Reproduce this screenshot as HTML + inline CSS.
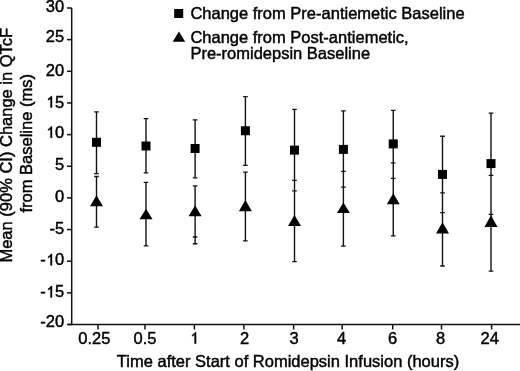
<!DOCTYPE html><html><head><meta charset="utf-8"><style>html,body{margin:0;padding:0;background:#fff;}svg{display:block;filter:grayscale(1);}text{font-family:"Liberation Sans",sans-serif;fill:#000;stroke:#000;stroke-width:0.45px;}.g1{fill:#000;stroke:#000;stroke-width:55px;}</style></head><body>
<svg width="520" height="371" viewBox="0 0 520 371" font-size="16.5">
<rect width="520" height="371" fill="#fff"/>
<g stroke="#111" stroke-width="1.5" fill="none">
<path d="M71.7 8 V324.5 M68 324.5 H520"/>
<path d="M67 8.00 H71.7"/>
<path d="M67 39.65 H71.7"/>
<path d="M67 71.30 H71.7"/>
<path d="M67 102.95 H71.7"/>
<path d="M67 134.60 H71.7"/>
<path d="M67 166.25 H71.7"/>
<path d="M67 197.90 H71.7"/>
<path d="M67 229.55 H71.7"/>
<path d="M67 261.20 H71.7"/>
<path d="M67 292.85 H71.7"/>
<path d="M67 324.50 H71.7"/>
<path d="M98 324.5 V329.5"/>
<path d="M145 324.5 V329.5"/>
<path d="M194.4 324.5 V329.5"/>
<path d="M243.9 324.5 V329.5"/>
<path d="M293.6 324.5 V329.5"/>
<path d="M342.2 324.5 V329.5"/>
<path d="M392.8 324.5 V329.5"/>
<path d="M441.5 324.5 V329.5"/>
<path d="M491.6 324.5 V329.5"/>
</g>
<text x="45.85" y="11.90">30</text>
<text x="45.85" y="42.20">25</text>
<text x="45.85" y="75.50">20</text>
<text x="45.85" y="107.50"> 5</text>
<path class="g1" transform="translate(45.85 107.50) scale(0.008057 -0.007712)" d="M763 0H583V1147Q518 1085 440 1035Q350 980 280 950V1120Q400 1185 495 1282Q590 1380 647 1472H763V0Z"/>
<text x="45.85" y="137.80"> 0</text>
<path class="g1" transform="translate(45.85 137.80) scale(0.008057 -0.007712)" d="M763 0H583V1147Q518 1085 440 1035Q350 980 280 950V1120Q400 1185 495 1282Q590 1380 647 1472H763V0Z"/>
<text x="55.02" y="169.90">5</text>
<text x="55.02" y="201.80">0</text>
<text x="49.53" y="233.80">-5</text>
<text x="40.35" y="265.30">- 0</text>
<path class="g1" transform="translate(45.85 265.30) scale(0.008057 -0.007712)" d="M763 0H583V1147Q518 1085 440 1035Q350 980 280 950V1120Q400 1185 495 1282Q590 1380 647 1472H763V0Z"/>
<text x="40.35" y="297.40">- 5</text>
<path class="g1" transform="translate(45.85 297.40) scale(0.008057 -0.007712)" d="M763 0H583V1147Q518 1085 440 1035Q350 980 280 950V1120Q400 1185 495 1282Q590 1380 647 1472H763V0Z"/>
<text x="40.35" y="327.40">-20</text>
<text x="78.24" y="343.60">0.25</text>
<text x="133.53" y="343.60">0.5</text>
<text x="189.91" y="343.60"> </text>
<path class="g1" transform="translate(189.91 343.60) scale(0.008057 -0.007712)" d="M763 0H583V1147Q518 1085 440 1035Q350 980 280 950V1120Q400 1185 495 1282Q590 1380 647 1472H763V0Z"/>
<text x="240.01" y="343.60">2</text>
<text x="289.61" y="343.60">3</text>
<text x="336.91" y="343.60">4</text>
<text x="387.91" y="343.60">6</text>
<text x="436.01" y="343.60">8</text>
<text x="480.62" y="343.60">24</text>
<text x="288" y="366.9" text-anchor="middle">Time after Start of Romidepsin Infusion (hours)</text>
<text transform="translate(12.4 145.2) rotate(-90)" text-anchor="middle">Mean (90% CI) Change in QTcF</text>
<text transform="translate(31.9 143.3) rotate(-90)" text-anchor="middle">from Baseline (ms)</text>
<rect x="174.2" y="9" width="9" height="9" fill="#000"/>
<path d="M172.7 41.7 L178.95 31.4 L185.2 41.7Z" fill="#000"/>
<text x="190.4" y="18.9">Change from Pre-antiemetic Baseline</text>
<text x="190.4" y="42.5">Change from Post-antiemetic,</text>
<text x="190.4" y="58.8">Pre-romidepsin Baseline</text>
<g stroke="#111" stroke-width="1.4" fill="none">
<path d="M96.5 111.90 V173.65 M96.5 176.55 V227.15 M94.20 111.90 H98.80 M94.20 173.65 H98.80 M94.20 176.55 H98.80 M94.20 227.15 H98.80"/>
<path d="M146 118.65 V172.90 M146 182.40 V245.90 M143.70 118.65 H148.30 M143.70 172.90 H148.30 M143.70 182.40 H148.30 M143.70 245.90 H148.30"/>
<path d="M195.1 119.90 V177.90 M195.1 185.90 V243.70 M192.80 119.90 H197.40 M192.80 177.90 H197.40 M192.80 185.90 H197.40 M192.80 237.00 H197.40 M192.80 243.70 H197.40"/>
<path d="M245.4 96.65 V165.40 M245.4 172.15 V240.90 M243.10 96.65 H247.70 M243.10 165.40 H247.70 M243.10 172.15 H247.70 M243.10 240.90 H247.70"/>
<path d="M294.5 109.40 V261.65 M292.20 109.40 H296.80 M292.20 190.90 H296.80 M292.20 180.40 H296.80 M292.20 261.65 H296.80"/>
<path d="M343.4 110.90 V246.15 M341.10 110.90 H345.70 M341.10 187.15 H345.70 M341.10 171.40 H345.70 M341.10 246.15 H345.70"/>
<path d="M393.25 110.40 V235.90 M390.95 110.40 H395.55 M390.95 178.40 H395.55 M390.95 162.90 H395.55 M390.95 235.90 H395.55"/>
<path d="M442.5 136.20 V266.00 M440.20 136.20 H444.80 M440.20 212.60 H444.80 M440.20 192.90 H444.80 M440.20 266.00 H444.80"/>
<path d="M491 113.10 V271.10 M488.70 113.10 H493.30 M488.70 214.40 H493.30 M488.70 175.40 H493.30 M488.70 271.10 H493.30"/>
</g><g fill="#000">
<rect x="92.0" y="137.8" width="9" height="9"/>
<path d="M90.0 206.15 L96.5 195.15 L103.0 206.15Z"/>
<rect x="141.5" y="141.5" width="9" height="9"/>
<path d="M139.5 219.15 L146 208.65 L152.5 219.15Z"/>
<rect x="190.6" y="144.0" width="9" height="9"/>
<path d="M188.6 216.15 L195.1 205.15 L201.6 216.15Z"/>
<rect x="240.9" y="126.25" width="9" height="9"/>
<path d="M238.9 211.3 L245.4 200.1 L251.9 211.3Z"/>
<rect x="290.0" y="145.65" width="9" height="9"/>
<path d="M288.0 225.9 L294.5 214.9 L301.0 225.9Z"/>
<rect x="338.9" y="144.9" width="9" height="9"/>
<path d="M336.9 212.9 L343.4 202.4 L349.9 212.9Z"/>
<rect x="388.75" y="139.4" width="9" height="9"/>
<path d="M386.75 204.15 L393.25 193.15 L399.75 204.15Z"/>
<rect x="438.0" y="169.9" width="9" height="9"/>
<path d="M436.0 233.6 L442.5 222.20000000000002 L449.0 233.6Z"/>
<rect x="486.5" y="159.1" width="9" height="9"/>
<path d="M484.5 227.1 L491 215.20000000000002 L497.5 227.1Z"/>
</g></svg></body></html>
